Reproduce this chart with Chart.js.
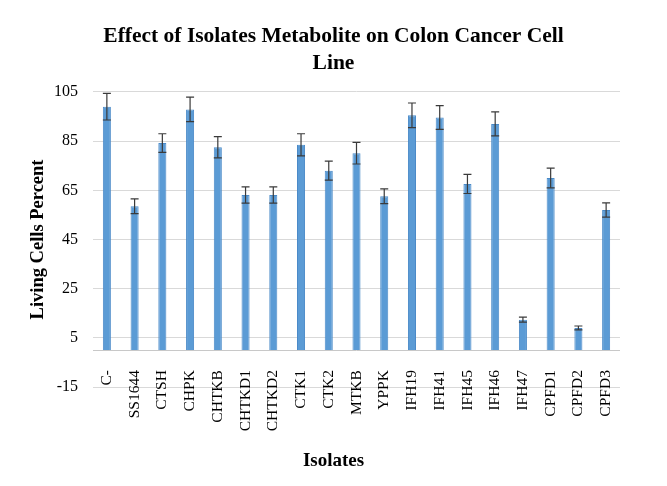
<!DOCTYPE html>
<html>
<head>
<meta charset="utf-8">
<script src="https://cdn.jsdelivr.net/npm/chart.js@4"></script>
<style>
  body { margin: 0; background: #ffffff; }
  #chart { display: block; }
</style>
</head>
<body>
<canvas id="chart" width="667" height="486"></canvas>
<script>
// Isolates on the x axis
const categories = ['C-', 'SS1644', 'CTSH', 'CHPK', 'CHTKB', 'CHTKD1', 'CHTKD2', 'CTK1', 'CTK2', 'MTKB',
    'YPPK', 'IFH19', 'IFH41', 'IFH45', 'IFH46', 'IFH47', 'CPFD1', 'CPFD2', 'CPFD3'];
// Living cells percent (bar heights)
const values = [99, 58.5, 84.2, 97.9, 82.5, 63.1, 63.1, 83.5, 73, 80.1,
    62.6, 95.5, 94.6, 67.6, 92, 12.4, 70, 9, 57];
// Error bar half lengths
const errors = [5.4, 3, 3.8, 5, 4.3, 3.3, 3.3, 4.5, 3.9, 4.4,
    3, 5, 4.8, 3.9, 4.9, 1, 4, 0.8, 2.9];
// y axis range and tick step
const yMin = -15;
const yMax = 105;
const yStep = 20;

const serif = "'Liberation Serif', 'Times New Roman', serif";

// error bars and the zero axis line, drawn through the scales
const errorBars = {
    id: 'errorBars',
    beforeDatasetsDraw(chart) {
        const {ctx, chartArea, scales} = chart;
        const y0 = Math.round(scales.y.getPixelForValue(0)) + 0.5;
        ctx.save();
        ctx.strokeStyle = '#c8c8c8';
        ctx.lineWidth = 1;
        ctx.beginPath();
        ctx.moveTo(chartArea.left, y0);
        ctx.lineTo(chartArea.right, y0);
        ctx.stroke();
        ctx.restore();
    },
    afterDatasetsDraw(chart) {
        const {ctx, scales} = chart;
        const meta = chart.getDatasetMeta(0);
        ctx.save();
        ctx.strokeStyle = '#3a3a3a';
        ctx.lineWidth = 1.2;
        meta.data.forEach((bar, i) => {
            const x = bar.x;
            const top = scales.y.getPixelForValue(values[i] + errors[i]);
            const bot = scales.y.getPixelForValue(values[i] - errors[i]);
            const cap = 4;
            ctx.beginPath();
            ctx.moveTo(x, top);
            ctx.lineTo(x, bot);
            ctx.moveTo(x - cap, top);
            ctx.lineTo(x + cap, top);
            ctx.moveTo(x - cap, bot);
            ctx.lineTo(x + cap, bot);
            ctx.stroke();
        });
        ctx.restore();
    }
};

new Chart(document.getElementById('chart'), {
    type: 'bar',
    data: {
        labels: categories,
        datasets: [{
            data: values,
            backgroundColor: '#5b9bd5',
            borderColor: '#4a8ac8',
            borderWidth: 1,
            categoryPercentage: 1,
            barPercentage: 0.29
        }]
    },
    options: {
        responsive: false,
        animation: false,
        layout: { padding: 0 },
        plugins: {
            legend: { display: false },
            tooltip: { enabled: false },
            title: {
                display: true,
                text: ['Effect of Isolates Metabolite on Colon Cancer Cell', 'Line'],
                color: '#000000',
                font: { family: serif, size: 21.5, weight: 'bold', lineHeight: 1.25 },
                padding: { top: 23.5, bottom: 14.7 }
            },
            subtitle: {
                // x axis title; its top padding leaves room for the hanging labels
                display: true,
                position: 'bottom',
                text: 'Isolates',
                color: '#000000',
                font: { family: serif, size: 19, weight: 'bold', lineHeight: 1.2 },
                padding: { top: 62.6, bottom: 13.6 }
            }
        },
        scales: {
            x: {
                // labels hang from the zero line, like the horizontal axis crossing at 0
                position: { y: 0 },
                grid: { display: false },
                border: { display: false },
                ticks: {
                    color: '#000000',
                    font: { family: serif, size: 15.5 },
                    minRotation: 90,
                    maxRotation: 90,
                    autoSkip: false,
                    padding: 12
                }
            },
            y: {
                min: yMin,
                max: yMax,
                grid: { color: '#d9d9d9', drawTicks: false },
                border: { display: false },
                ticks: {
                    stepSize: yStep,
                    color: '#000000',
                    font: { family: serif, size: 16 },
                    padding: 15
                },
                title: {
                    display: true,
                    text: 'Living Cells Percent',
                    color: '#000000',
                    font: { family: serif, size: 18.5, weight: 'bold', lineHeight: 1.2 },
                    padding: { top: 27, bottom: 0 }
                },
                afterFit: (scale) => { scale.width = 93; }
            },
            // empty right margin so the titles stay centred on the whole page
            yRight: {
                type: 'linear',
                position: 'right',
                grid: { display: false },
                border: { display: false },
                ticks: { display: false },
                afterFit: (scale) => { scale.width = 47; }
            }
        }
    },
    plugins: [errorBars]
});
</script>
</body>
</html>
